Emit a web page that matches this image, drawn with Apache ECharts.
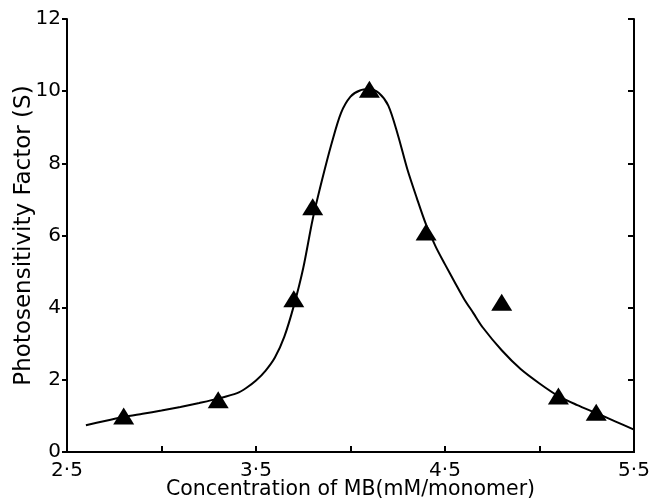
<!DOCTYPE html>
<html>
<head>
<meta charset="utf-8">
<script src="https://cdn.jsdelivr.net/npm/echarts@6/dist/echarts.min.js"></script>
<style>html,body{margin:0;padding:0;background:#fff}#c{width:657px;height:501px}</style>
</head>
<body>
<div id="c"></div>
<script>
// Measured points (triangles)
var pointX = [2.8, 3.3, 3.7, 3.8, 4.1, 4.4, 4.8, 5.1, 5.3];
var pointY = [1.0, 1.45, 4.25, 6.8, 10.05, 6.1, 4.15, 1.55, 1.1];
// Fitted curve
var curveX = [2.6, 2.7, 2.8, 2.9, 3.0, 3.1, 3.2, 3.3, 3.4, 3.45, 3.5, 3.55, 3.6, 3.65, 3.7, 3.75, 3.8, 3.85, 3.9, 3.95, 4.0, 4.05, 4.1, 4.15, 4.2, 4.25, 4.3, 4.35, 4.4, 4.45, 4.5, 4.55, 4.6, 4.65, 4.7, 4.8, 4.9, 5.0, 5.1, 5.2, 5.3, 5.4, 5.5];
var curveY = [0.74, 0.86, 0.97, 1.06, 1.15, 1.25, 1.36, 1.48, 1.63, 1.78, 1.98, 2.25, 2.62, 3.2, 4.05, 5.1, 6.45, 7.55, 8.55, 9.4, 9.85, 10.02, 10.05, 9.95, 9.6, 8.8, 7.85, 7.05, 6.3, 5.7, 5.2, 4.72, 4.25, 3.85, 3.45, 2.82, 2.3, 1.9, 1.55, 1.3, 1.08, 0.85, 0.62];
var xTickLabels = {"2.5": "2·5", "3.5": "3·5", "4.5": "4·5", "5.5": "5·5"};
var yTickLabels = ["0", "2", "4", "6", "8", "10", "12"];

var font = "DejaVu Sans";
var chart = echarts.init(document.getElementById('c'), null, {renderer: 'canvas'});
chart.setOption({
  animation: false,
  backgroundColor: '#fff',
  grid: {left: 67, right: 23, top: 19, bottom: 49, show: false, containLabel: false, outerBoundsMode: 'none'},
  xAxis: [{
    type: 'value', min: 2.5, max: 5.5, interval: 0.5, position: 'bottom',
    name: 'Concentration of MB(mM/monomer)', nameLocation: 'middle', nameGap: 27, nameMoveOverlap: false,
    nameTextStyle: {fontFamily: font, fontSize: 20.5, color: '#000'},
    axisLine: {show: true, lineStyle: {color: '#000', width: 2}},
    axisTick: {show: true, inside: true, length: 6, lineStyle: {color: '#000', width: 2}},
    axisLabel: {fontFamily: font, fontSize: 20, color: '#000', margin: 9,
      formatter: function (v) { var k = (Math.round(v * 10) / 10).toFixed(1); return xTickLabels[k] || ''; }},
    splitLine: {show: false}
  }, {
    type: 'value', min: 2.5, max: 5.5, position: 'top',
    axisLine: {show: true, lineStyle: {color: '#000', width: 2}},
    axisTick: {show: false}, axisLabel: {show: false}, splitLine: {show: false}
  }],
  yAxis: [{
    type: 'value', min: 0, max: 12, interval: 2, position: 'left',
    name: 'Photosensitivity Factor (S)', nameLocation: 'middle', nameGap: 31, nameRotate: 90, nameMoveOverlap: false,
    nameTextStyle: {fontFamily: font, fontSize: 23, color: '#000'},
    axisLine: {show: true, lineStyle: {color: '#000', width: 2}},
    axisTick: {show: true, inside: false, length: 5, lineStyle: {color: '#000', width: 2}},
    axisLabel: {fontFamily: font, fontSize: 20, color: '#000', margin: 6,
      formatter: function (v) { return yTickLabels[Math.round(v / 2)]; }},
    splitLine: {show: false}
  }, {
    type: 'value', min: 0, max: 12, interval: 2, position: 'right',
    axisLine: {show: true, lineStyle: {color: '#000', width: 2}},
    axisTick: {show: true, inside: true, length: 6, lineStyle: {color: '#000', width: 2}},
    axisLabel: {show: false}, splitLine: {show: false}
  }],
  series: [{
    type: 'line', xAxisIndex: 0, yAxisIndex: 0,
    data: curveX.map(function (x, i) { return [x, curveY[i]]; }),
    smooth: 0.3, showSymbol: false, symbol: 'none',
    lineStyle: {color: '#000', width: 2}, z: 2
  }, {
    type: 'scatter', xAxisIndex: 0, yAxisIndex: 0,
    data: pointX.map(function (x, i) { return [x, pointY[i]]; }),
    symbol: 'triangle', symbolSize: [21, 17],
    itemStyle: {color: '#000', opacity: 1}, z: 3
  }]
});
</script>
</body>
</html>
